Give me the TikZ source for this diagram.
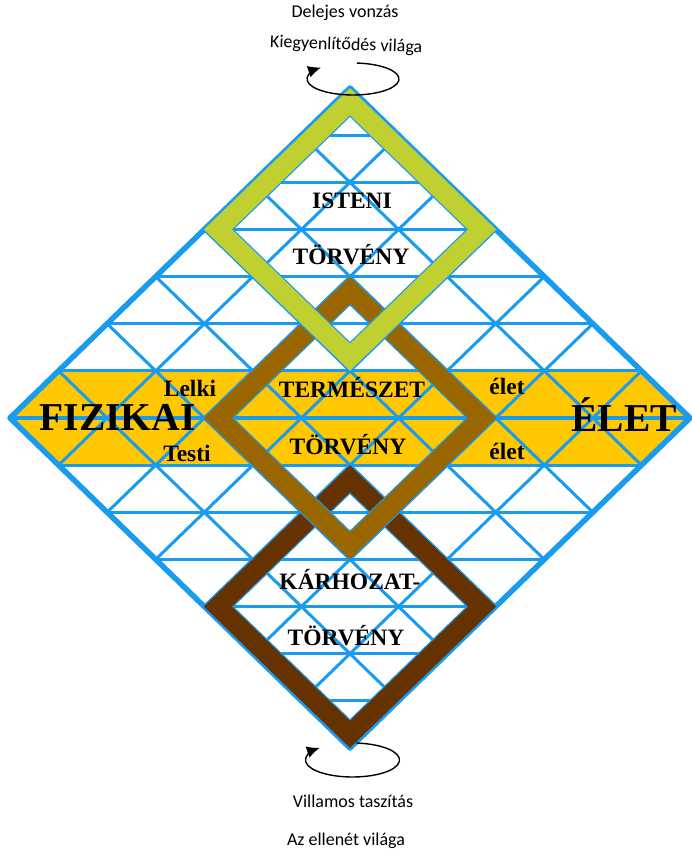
\documentclass[tikz,border=0pt]{standalone}
\usepackage{fontspec}
\setmainfont{Liberation Serif}
\newfontfamily\calibri{Carlito}
\usetikzlibrary{arrows,arrows.meta,shapes,positioning,calc}
\usepackage{xcolor}
\definecolor{gridblue}{RGB}{25,155,240}
\definecolor{bandyellow}{RGB}{255,200,0}
\definecolor{lawgreen}{RGB}{192,208,48}
\definecolor{lawbrown}{RGB}{153,102,0}
\definecolor{lawdark}{RGB}{102,51,0}

\begin{document}
\begin{tikzpicture}[x=48.57pt, y=47.14pt,
        gridline/.style={draw=gridblue, line width=3pt},
        rim/.style={draw=gridblue, line width=22pt, line join=miter},
        frame/.style={line width=19.5pt, line join=miter},
        spin/.style={-{Latex[length=13pt,width=12pt]}, line width=1.4pt},
        law/.style={font=\bfseries\fontsize{23.5}{23.5}\selectfont, anchor=base},
        big/.style={font=\bfseries\fontsize{39.5}{39.5}\selectfont, anchor=base},
        caption/.style={font=\calibri\fontsize{18}{18}\selectfont, anchor=base}]
        \useasboundingbox[fill=white] (-350pt,-433pt) rectangle (341pt,418pt);

        % yellow band across the middle
        \fill[bandyellow] (-7,0) -- (-6,1) -- (6,1) -- (7,0) -- (6,-1) -- (-6,-1) -- cycle;

        % triangle grid
        \foreach \k in {1,...,6} {
            \draw[gridline] (-7+\k,\k) -- (7-\k,\k);
            \draw[gridline] (-7+\k,-\k) -- (7-\k,-\k);
        }
        \foreach \c in {-5,-3,...,5} {
            \draw[gridline] ({(\c+7)/2},{(\c-7)/2}) -- ({(\c-7)/2},{(\c+7)/2});
            \draw[gridline] ({(\c+7)/2},{(7-\c)/2}) -- ({(\c-7)/2},{(-7-\c)/2});
        }
        \draw[draw=gridblue, line width=4.5pt] (-7,0) -- (7,0);
        \draw[draw=gridblue, line width=5.5pt, line join=round] (0,7) -- (7,0) -- (0,-7) -- (-7,0) -- cycle;

        % the three laws
        \draw[rim] (0,-1.29) -- (2.72,-4) -- (0,-6.71) -- (-2.72,-4) -- cycle;
        \draw[frame, lawdark] (0,-1.29) -- (2.72,-4) -- (0,-6.71) -- (-2.72,-4) -- cycle;
        \draw[rim] (0,2.71) -- (2.72,0) -- (0,-2.71) -- (-2.72,0) -- cycle;
        \draw[frame, lawbrown] (0,2.71) -- (2.72,0) -- (0,-2.71) -- (-2.72,0) -- cycle;
        \draw[rim] (0,6.71) -- (2.72,4) -- (0,1.29) -- (-2.72,4) -- cycle;
        \draw[frame, lawgreen] (0,6.71) -- (2.72,4) -- (0,1.29) -- (-2.72,4) -- cycle;

        \node[law] (isteni) at (2pt,209pt) {ISTENI};
        \node[law] (istenitv) at (1pt,153pt) {TÖRVÉNY};
        \node[law] (termeszet) at (2pt,20pt) {TERMÉSZET};
        \node[law] (termeszettv) at (-2pt,-37pt) {TÖRVÉNY};
        \node[law] (karhozat) at (0pt,-171pt) {KÁRHOZAT-};
        \node[law] (karhozattv) at (-4pt,-227pt) {TÖRVÉNY};

        \node[law] (lelki) at (-160pt,21pt) {Lelki};
        \node[law] (testi) at (-163pt,-44pt) {Testi};
        \node[law] (eletfent) at (157pt,23pt) {élet};
        \node[law] (eletlent) at (157pt,-42pt) {élet};
        \node[big] (fizikai) at (-232.5pt,-13pt) {FIZIKAI};
        \node[big] (elet) at (274pt,-14pt) {ÉLET};

        % spin at the two tips
        \coordinate (topspin) at (3pt,339pt);
        \coordinate (bottomspin) at (2.5pt,-342pt);
        \draw[spin] ([shift={(85:46pt and 16pt)}]topspin)
            arc[start angle=85, end angle=-226, x radius=46pt, y radius=16pt];
        \draw[spin] ([shift={(85:47pt and 17pt)}]bottomspin)
            arc[start angle=85, end angle=-226, x radius=47pt, y radius=17pt];

        \node[caption] (vonzas) at (-5pt,400pt) {Delejes vonzás};
        \node[caption, rotate=-2] (kiegy) at (-4pt,368pt) {Kiegyenlítődés világa};
        \node[caption] (taszitas) at (3pt,-389pt) {Villamos taszítás};
        \node[caption] (ellenet) at (-4pt,-427pt) {Az ellenét világa};
    \end{tikzpicture}
\end{document}
